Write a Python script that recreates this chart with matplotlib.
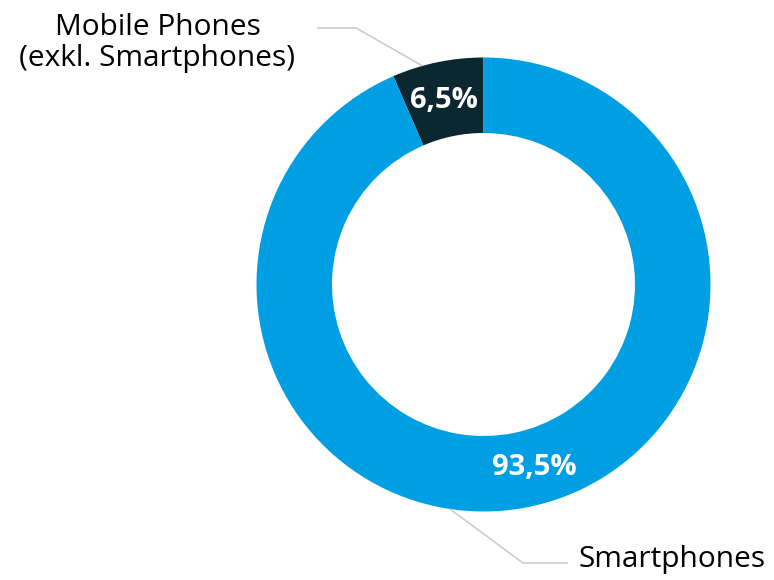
import numpy as np
import matplotlib
matplotlib.use("Agg")
import matplotlib.pyplot as plt

plt.rcParams['font.family'] = ['Open Sans', 'DejaVu Sans']

categories = ["Mobile Phones\n(exkl. Smartphones)", "Smartphones"]
shares = [6.5, 93.5]
colors = ["#0b2730", "#009fe3"]

W, H = 774, 580
fig = plt.figure(figsize=(W / 100, H / 100), dpi=100)
ax = fig.add_axes([0, 0, 1, 1])

cx, cy = 483.5, 295.5
r_out, ring = 227, 75.5
wedges, _ = ax.pie(shares, colors=colors, startangle=90, counterclock=True,
                   center=(cx, cy), radius=r_out,
                   wedgeprops=dict(width=ring, linewidth=0))
ax.set_xlim(0, W)
ax.set_ylim(0, H)
ax.set_aspect('equal')
ax.axis('off')

# percentage labels in the ring
r_mid = r_out - ring / 2
shift = [0.3, 3.8]  # small nudges of label angle (deg)
for w, v, s in zip(wedges, shares, shift):
    a = np.deg2rad((w.theta1 + w.theta2) / 2 + s)
    ax.text(cx + r_mid * np.cos(a), cy + r_mid * np.sin(a) - 1,
            f"{v:.1f}%".replace(".", ","), color="white", fontsize=21,
            fontweight="bold", ha="center", va="center")

# leader lines + category labels
def leader(angle, elbow, end):
    a = np.deg2rad(angle)
    p = (cx + r_out * np.cos(a), cy + r_out * np.sin(a))
    ax.plot([p[0], elbow[0], end[0]], [p[1], elbow[1], end[1]],
            color="#cccccc", lw=1.2, solid_capstyle="butt")

leader(105.6, (356, 552), (317, 552))
leader(261.5, (523, 17), (568, 17))

ax.text(157.5, 537, categories[0], fontsize=21.5, ha="center", va="center",
        linespacing=1.1, color="black")
ax.text(579, 21, categories[1], fontsize=21.5, ha="left", va="center",
        color="black")

fig.savefig("out.png", dpi=100)
